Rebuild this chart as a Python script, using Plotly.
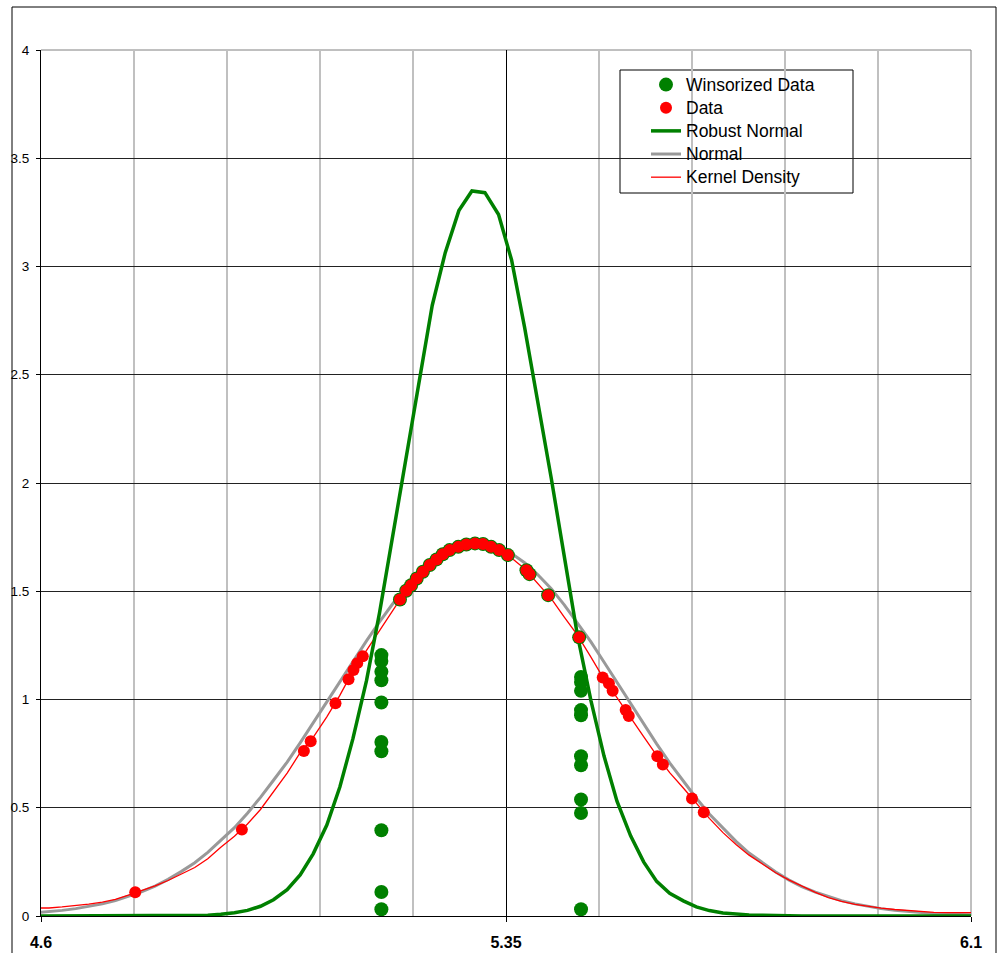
import plotly.graph_objects as go

# ---------------- data ----------------
curve_x = [4.592, 4.613, 4.634, 4.656, 4.677, 4.699, 4.720, 4.741, 4.762, 4.784,
           4.805, 4.826, 4.848, 4.869, 4.890, 4.912, 4.933, 4.954, 4.975, 4.997,
           5.018, 5.039, 5.061, 5.082, 5.103, 5.125, 5.146, 5.167, 5.188, 5.210,
           5.231, 5.252, 5.274, 5.295, 5.316, 5.338, 5.359, 5.380, 5.401, 5.423,
           5.444, 5.465, 5.487, 5.508, 5.529, 5.551, 5.572, 5.593, 5.614, 5.636,
           5.657, 5.678, 5.700, 5.721, 5.742, 5.764, 5.785, 5.806, 5.827, 5.849,
           5.870, 5.891, 5.913, 5.934, 5.955, 5.977, 5.998, 6.019, 6.040, 6.062,
           6.083, 6.104]

normal_y = [0.015, 0.020, 0.026, 0.034, 0.044, 0.056, 0.071, 0.090, 0.112, 0.138,
            0.169, 0.205, 0.246, 0.294, 0.348, 0.408, 0.475, 0.548, 0.627, 0.711,
            0.800, 0.893, 0.987, 1.083, 1.178, 1.271, 1.359, 1.441, 1.516, 1.580,
            1.634, 1.676, 1.704, 1.718, 1.718, 1.703, 1.674, 1.632, 1.577, 1.512,
            1.437, 1.355, 1.266, 1.173, 1.078, 0.982, 0.888, 0.795, 0.707, 0.623,
            0.544, 0.471, 0.405, 0.345, 0.291, 0.244, 0.203, 0.167, 0.136, 0.110,
            0.089, 0.071, 0.056, 0.044, 0.034, 0.026, 0.020, 0.015, 0.011, 0.008,
            0.006, 0.005]

kernel_y = [0.037, 0.037, 0.042, 0.047, 0.055, 0.064, 0.077, 0.096, 0.117, 0.139,
            0.164, 0.192, 0.224, 0.264, 0.318, 0.368, 0.425, 0.492, 0.572, 0.660,
            0.754, 0.825, 0.920, 1.019, 1.131, 1.225, 1.317, 1.410, 1.500, 1.571,
            1.630, 1.678, 1.705, 1.719, 1.717, 1.692, 1.654, 1.604, 1.535, 1.466,
            1.381, 1.298, 1.196, 1.094, 1.009, 0.914, 0.828, 0.742, 0.662, 0.591,
            0.519, 0.451, 0.385, 0.330, 0.281, 0.238, 0.200, 0.167, 0.137, 0.109,
            0.085, 0.067, 0.054, 0.044, 0.036, 0.030, 0.025, 0.021, 0.017, 0.016,
            0.016, 0.016]

robust_y = [0.000, 0.000, 0.000, 0.000, 0.000, 0.000, 0.000, 0.000, 0.000, 0.000,
            0.000, 0.001, 0.002, 0.004, 0.008, 0.015, 0.026, 0.045, 0.075, 0.122,
            0.190, 0.287, 0.420, 0.596, 0.818, 1.087, 1.400, 1.746, 2.109, 2.466,
            2.820, 3.064, 3.258, 3.349, 3.341, 3.240, 3.030, 2.719, 2.382, 2.022,
            1.661, 1.300, 0.995, 0.740, 0.530, 0.370, 0.250, 0.160, 0.105, 0.070,
            0.042, 0.025, 0.014, 0.008, 0.005, 0.004, 0.002, 0.000, 0.000, 0.000,
            0.000, 0.000, 0.000, 0.000, 0.000, 0.000, 0.000, 0.000, 0.000, 0.000,
            0.000, 0.000]

data_x = [4.752, 4.924, 5.024, 5.035, 5.075, 5.096, 5.104, 5.110, 5.119,
          5.179, 5.189, 5.197, 5.206, 5.216, 5.227, 5.238, 5.248, 5.259, 5.273,
          5.286, 5.300, 5.313, 5.326, 5.339, 5.353, 5.383, 5.388, 5.418, 5.468,
          5.506, 5.516, 5.522, 5.543, 5.548, 5.594, 5.603, 5.650, 5.669]
data_y = [0.110, 0.399, 0.762, 0.807, 0.983, 1.094, 1.136, 1.168, 1.200,
          1.462, 1.502, 1.528, 1.559, 1.590, 1.621, 1.647, 1.671, 1.690, 1.705,
          1.716, 1.721, 1.718, 1.705, 1.690, 1.667, 1.597, 1.579, 1.482, 1.287,
          1.102, 1.074, 1.040, 0.951, 0.924, 0.738, 0.700, 0.543, 0.479]

winsor_low = 5.149
winsor_high = 5.471
winsor_left_y = [0.031, 0.111, 0.396, 0.761, 0.804, 0.986, 1.089, 1.128, 1.178, 1.205]
winsor_right_y = [0.031, 0.476, 0.538, 0.696, 0.738, 0.927, 0.951, 1.040, 1.081, 1.104]

x_tick_vals = [4.6, 5.35, 6.1]
x_tick_text = ["4.6", "5.35", "6.1"]
x_minor_vals = [4.75, 4.9, 5.05, 5.2, 5.5, 5.65, 5.8, 5.95]
y_tick_vals = [0, 0.5, 1, 1.5, 2, 2.5, 3, 3.5, 4]
y_tick_text = ["0", "0.5", "1", "1.5", "2", "2.5", "3", "3.5", "4"]

# winsorized data = data clipped to the bounds
winsor_x, winsor_y = [], []
for xv, yv in zip(data_x, data_y):
    if winsor_low <= xv <= winsor_high:
        winsor_x.append(xv)
        winsor_y.append(yv)
winsor_x += [winsor_low] * len(winsor_left_y) + [winsor_high] * len(winsor_right_y)
winsor_y += winsor_left_y + winsor_right_y

FONT = "Arial, 'Liberation Sans', sans-serif"


def lg(name):
    # legend label slightly larger than the row spacing font
    return "<span style='font-size:17.5px'>" + name + "</span>"


fig = go.Figure()
fig.add_trace(go.Scatter(x=curve_x, y=normal_y, mode="lines", name=lg("Normal"),
                         line=dict(color="#999999", width=3), legendrank=4))
fig.add_trace(go.Scatter(x=curve_x, y=kernel_y, mode="lines", name=lg("Kernel Density"),
                         line=dict(color="#ff0000", width=1.3), legendrank=5))
fig.add_trace(go.Scatter(x=curve_x, y=robust_y, mode="lines", name=lg("Robust Normal"),
                         line=dict(color="#008000", width=3.5), legendrank=3))
fig.add_trace(go.Scatter(x=winsor_x, y=winsor_y, mode="markers", name=lg("Winsorized Data"),
                         marker=dict(color="#008000", size=14, line=dict(width=0)),
                         legendrank=1))
fig.add_trace(go.Scatter(x=data_x, y=data_y, mode="markers", name=lg("Data"),
                         marker=dict(color="#ff0000", size=12, line=dict(width=0)),
                         legendrank=2))

L, R, T, B = 41, 29, 50, 37
W, H = 1000, 953
pw, ph = W - L - R, H - T - B


def px_x(p):
    return (p - L) / pw


def px_y(p):
    return (H - B - p) / ph


shapes = [
    # outer chart frame
    dict(type="rect", xref="paper", yref="paper",
         x0=px_x(12), x1=px_x(996), y0=px_y(975), y1=px_y(7),
         line=dict(color="black", width=1), fillcolor="rgba(0,0,0,0)", layer="above"),
    # plot-area border (top and right, gray)
    dict(type="line", xref="paper", yref="paper", x0=0, x1=1, y0=1, y1=1,
         line=dict(color="#808080", width=1), layer="between"),
    dict(type="line", xref="paper", yref="paper", x0=1, x1=1, y0=0, y1=1,
         line=dict(color="#808080", width=1), layer="between"),
    # legend box
    dict(type="rect", xref="paper", yref="paper",
         x0=px_x(620), x1=px_x(853), y0=px_y(193), y1=px_y(70),
         line=dict(color="black", width=1), fillcolor="white", layer="between"),
]

fig.update_layout(
    width=W, height=H,
    margin=dict(l=L, r=R, t=T, b=B, pad=0, autoexpand=False),
    paper_bgcolor="white", plot_bgcolor="white",
    font=dict(family=FONT, color="black"),
    shapes=shapes,
    showlegend=True,
    legend=dict(x=px_x(646), y=px_y(68), xanchor="left", yanchor="top",
                bgcolor="rgba(0,0,0,0)", borderwidth=0,
                font=dict(family=FONT, size=15.5, color="black"),
                itemwidth=30, tracegroupgap=0),
)

fig.update_xaxes(
    range=[4.6, 6.1], tickmode="array", tickvals=x_tick_vals, ticktext=x_tick_text,
    tickfont=dict(family=FONT, size=16, color="black", weight="bold"),
    ticks="outside", ticklen=5, tickcolor="black", tickwidth=1,
    ticklabelstandoff=7, automargin=False,
    showgrid=True, gridcolor="black", gridwidth=1,
    minor=dict(tickmode="array", tickvals=x_minor_vals, showgrid=True,
               gridcolor="#c0c0c0", gridwidth=1.5, ticks=""),
    showline=True, linecolor="black", linewidth=1, zeroline=False,
)
fig.update_yaxes(
    range=[0, 4], tickmode="array", tickvals=y_tick_vals, ticktext=y_tick_text,
    tickfont=dict(family=FONT, size=13.5, color="black"),
    ticks="outside", ticklen=4, tickcolor="black", tickwidth=1,
    ticklabelstandoff=4, automargin=False,
    showgrid=True, gridcolor="#222222", gridwidth=1,
    showline=True, linecolor="black", linewidth=1, zeroline=False,
)

fig.write_html("out.html")
